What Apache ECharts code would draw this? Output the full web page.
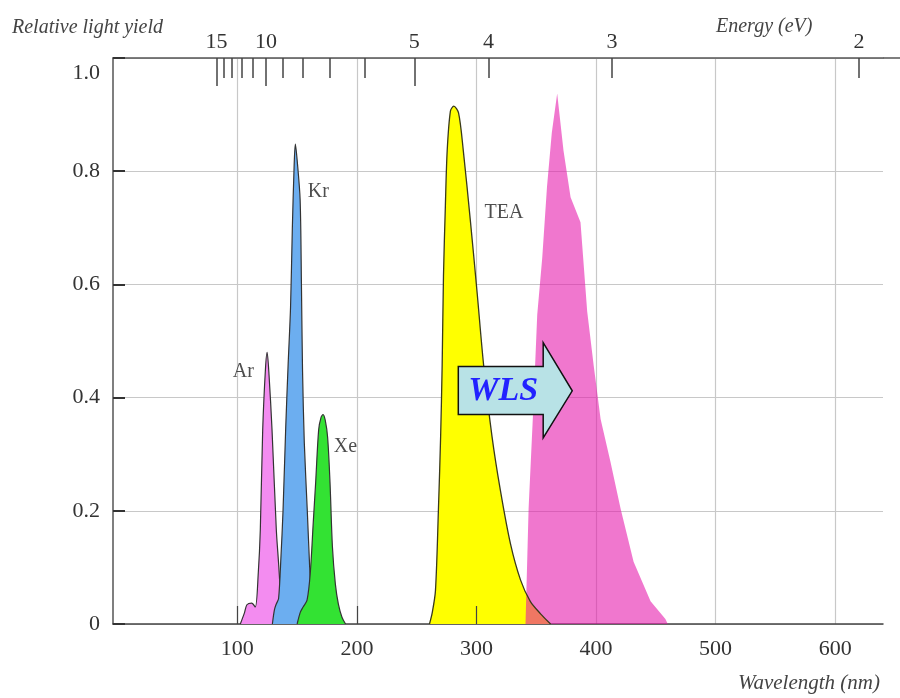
<!DOCTYPE html>
<html><head><meta charset="utf-8">
<script src="https://cdn.jsdelivr.net/npm/echarts@6/dist/echarts.min.js"></script>
<style>html,body{margin:0;padding:0;background:#fff}#c{width:900px;height:698px}</style>
</head><body><div id="c"></div>
<script>
// ---- data ----
const wavelengthTicks = [100, 200, 300, 400, 500, 600];
const wavelengthInnerTicks = [100, 200, 300];
const energyTicks = [15, 14, 13, 12, 11, 10, 9, 8, 7, 6, 5, 4, 3, 2];
const energyLabels = [15, 10, 5, 4, 3, 2];
const energyLongTicks = [15, 10, 5];
const arData = [[102.5,0],[106,0.02],[108,0.034],[112,0.037],[115,0.03],[117.5,0.09],[119.2,0.166],[121.2,0.343],[123.5,0.45],[124.9,0.48],[126.5,0.44],[129,0.343],[132.6,0.166],[134.5,0.107],[136.5,0.04],[138,0]];
const krData = [[129.3,0],[131,0.025],[132.5,0.035],[134.5,0.045],[136.5,0.12],[138.2,0.2],[140.5,0.35],[142.5,0.46],[144.5,0.56],[146,0.7],[147.5,0.81],[148.5,0.848],[150,0.82],[152.5,0.75],[153.6,0.6],[154.5,0.45],[156,0.32],[158.5,0.2],[160.5,0.1],[162,0.04],[163,0]];
const xeData = [[150,0],[152.7,0.021],[155,0.03],[158.3,0.042],[161,0.09],[163.5,0.18],[165.5,0.25],[168,0.343],[170,0.365],[171.7,0.37],[173.5,0.36],[175.5,0.33],[177.5,0.25],[179.5,0.137],[182,0.07],[184.5,0.035],[187.5,0.012],[190.5,0]];
const teaData = [[260.7,0],[263,0.02],[265.7,0.059],[268.2,0.204],[270,0.33],[271.3,0.457],[272.4,0.615],[274,0.74],[275.5,0.836],[278.2,0.906],[281,0.915],[285,0.903],[289,0.836],[295,0.71],[300.6,0.584],[306,0.457],[313,0.331],[320,0.236],[328.5,0.141],[336.8,0.078],[345,0.04],[353.6,0.018],[362,0]];
const wlsData = [[341,0],[343.6,0.204],[347.8,0.394],[350.8,0.546],[355,0.647],[359,0.773],[363,0.868],[367.5,0.9375],[372.8,0.836],[378.7,0.754],[387,0.71],[392.6,0.552],[398,0.457],[403.8,0.362],[412,0.287],[420.5,0.204],[431.4,0.11],[445.6,0.04],[458,0.009],[460,0]];
const labelNames = ['Ar', 'Kr', 'Xe', 'TEA'];
const labelX = [105, 167.8, 190.4, 323];
const labelY = [0.446, 0.763, 0.313, 0.726];
const arrowText = 'WLS';

// ---- chart ----
const FONT = '"Liberation Serif", "DejaVu Serif", serif';
const XMIN = -4, XMAX = 640;
const chart = echarts.init(document.getElementById('c'), null, {renderer: 'canvas'});
const toNm = e => 1240 / e;

function areaSeries(name, data, color, z, smooth, lineColor) {
  return {
    name, type: 'line', data, z, smooth, symbol: 'none',
    lineStyle: lineColor ? {color: lineColor, width: 1.2} : {width: 0},
    areaStyle: {color, opacity: 1},
    silent: true
  };
}

chart.setOption({
  animation: false,
  backgroundColor: '#fff',
  grid: {left: 113, right: 17, top: 58, bottom: 74},
  xAxis: [
    {
      type: 'value', position: 'bottom', min: XMIN, max: XMAX,
      axisLine: {show: true, onZero: false, lineStyle: {color: '#444', width: 1.5}},
      axisTick: {show: false, customValues: wavelengthTicks},
      axisLabel: {customValues: wavelengthTicks, color: '#333', fontSize: 22, fontFamily: FONT, margin: 14},
      splitLine: {show: true, lineStyle: {color: '#c8c8c8', width: 1.2}}
    },
    {
      type: 'value', position: 'top', min: XMIN, max: XMAX,
      axisLine: {show: true, onZero: false, lineStyle: {color: '#555', width: 1.5}},
      axisTick: {show: true, inside: true, length: 20, customValues: energyTicks.map(toNm), lineStyle: {color: '#444', width: 1.5}},
      axisLabel: {customValues: energyLabels.map(toNm), formatter: v => String(Math.round(1240 / v)), color: '#333', fontSize: 22, fontFamily: FONT, margin: 5},
      splitLine: {show: false}
    },
    {
      type: 'value', position: 'top', min: XMIN, max: XMAX,
      axisLine: {show: false, onZero: false},
      axisTick: {show: true, inside: true, length: 28, customValues: energyLongTicks.map(toNm), lineStyle: {color: '#444', width: 1.5}},
      axisLabel: {show: false},
      splitLine: {show: false}
    },
    {
      type: 'value', position: 'bottom', min: XMIN, max: XMAX, z: 10,
      axisLine: {show: false, onZero: false},
      axisTick: {show: true, inside: true, length: 18, customValues: wavelengthInnerTicks, lineStyle: {color: '#444', width: 1.2}},
      axisLabel: {show: false},
      splitLine: {show: false}
    }
  ],
  yAxis: {
    type: 'value', min: 0, max: 1, interval: 0.2,
    axisLine: {show: true, onZero: false, lineStyle: {color: '#555', width: 1.5}},
    axisTick: {show: true, inside: true, length: 12, lineStyle: {color: '#333', width: 2}},
    axisLabel: {
      formatter: v => v === 0 ? '0' : (v >= 1 ? '{t|' + v.toFixed(1) + '}' : v.toFixed(1)),
      color: '#333', fontSize: 22, fontFamily: FONT, margin: 13,
      rich: {t: {padding: [30, 0, 0, 0], fontSize: 22, fontFamily: FONT, color: '#333'}}
    },
    splitLine: {show: true, lineStyle: {color: '#c8c8c8', width: 1.2}}
  },
  series: [
    areaSeries('Ar', arData, '#f38cf0', 2, 0.3, '#333'),
    areaSeries('Kr', krData, '#6caef0', 3, 0.3, '#333'),
    areaSeries('Xe', xeData, '#33e233', 4, 0.3, '#333'),
    areaSeries('TEA', teaData, '#ffff00', 5, 0.3, null),
    areaSeries('WLS', wlsData, 'rgba(230,20,170,0.58)', 6, false, null),
    {name: 'TEA outline', type: 'line', data: teaData, z: 7, smooth: 0.3, symbol: 'none', silent: true,
      lineStyle: {color: '#3a3a1a', width: 1.3}},
    {name: 'labels', type: 'scatter', z: 8, symbolSize: 0, silent: true,
      data: labelNames.map((n, i) => ({name: n, value: [labelX[i], labelY[i]]})),
      label: {show: true, position: 'inside', formatter: p => p.name, color: '#222', fontSize: 20, fontFamily: FONT}}
  ]
});

// ---- annotations ----
const px = (x, y) => chart.convertToPixel({gridIndex: 0}, [x, y]);
const aL = 284.8, aB = 355.8, aT = 380.1;
const yHeadTop = 0.497, yBoxTop = 0.455, yMid = 0.412, yBoxBot = 0.37, yHeadBot = 0.329;
const arrowPts = [
  px(aL, yBoxTop), px(aB, yBoxTop), px(aB, yHeadTop), px(aT, yMid),
  px(aB, yHeadBot), px(aB, yBoxBot), px(aL, yBoxBot)
];
const textPos = px((aL + aB) / 2 + 2, yMid);
const topRight = px(XMAX, 1);

chart.setOption({
  graphic: [
    {type: 'line', z: 10, shape: {x1: topRight[0], y1: topRight[1], x2: 900, y2: topRight[1]}, style: {stroke: '#555', lineWidth: 1.5}},
    {type: 'polygon', z: 20, shape: {points: arrowPts}, style: {fill: '#b8e2e6', stroke: '#111', lineWidth: 1.5}},
    {type: 'text', z: 21, x: textPos[0], y: textPos[1], style: {text: arrowText, fill: '#2222ff', font: 'italic bold 34px "Liberation Serif", serif', textAlign: 'center', textVerticalAlign: 'middle'}},
    {type: 'text', z: 21, x: 12, y: 28, style: {text: 'Relative light yield', fill: '#444', font: 'italic 20px "Liberation Serif", serif', textAlign: 'left', textVerticalAlign: 'middle'}},
    {type: 'text', z: 21, x: 716, y: 27, style: {text: 'Energy (eV)', fill: '#444', font: 'italic 20px "Liberation Serif", serif', textAlign: 'left', textVerticalAlign: 'middle'}},
    {type: 'text', z: 21, x: 880, y: 683, style: {text: 'Wavelength (nm)', fill: '#444', font: 'italic 21px "Liberation Serif", serif', textAlign: 'right', textVerticalAlign: 'middle'}}
  ]
});
</script>
</body></html>
